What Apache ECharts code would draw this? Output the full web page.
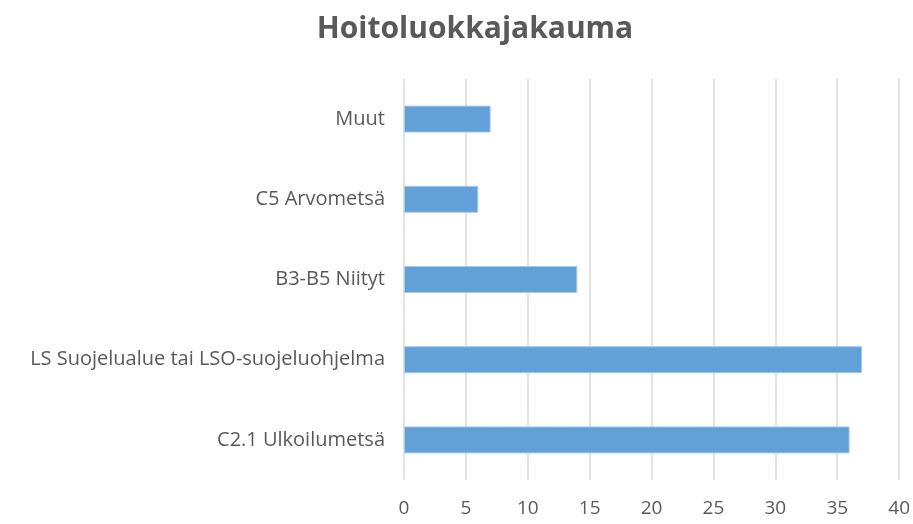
<!DOCTYPE html>
<html>
<head>
<meta charset="utf-8">
<script src="https://cdn.jsdelivr.net/npm/echarts@6/dist/echarts.min.js"></script>
<style>
html, body { margin: 0; padding: 0; background: #fff; }
#chart { width: 913px; height: 524px; }
</style>
</head>
<body>
<div id="chart"></div>
<script>
// Hoitoluokat alhaalta ylös
const categories = [
  'C2.1 Ulkoilumetsä',
  'LS Suojelualue tai LSO-suojeluohjelma',
  'B3-B5 Niityt',
  'C5 Arvometsä',
  'Muut'
];
const values = [36, 37, 14, 6, 7];
const axisTicks = [0, 5, 10, 15, 20, 25, 30, 35, 40];

const chart = echarts.init(document.getElementById('chart'), null, { renderer: 'canvas' });
chart.setOption({
  animation: false,
  title: {
    text: 'Hoitoluokkajakauma',
    left: 470,
    textAlign: 'center',
    top: 9,
    textStyle: {
      fontFamily: 'Open Sans',
      fontWeight: 'bold',
      fontSize: 30,
      color: '#595959'
    }
  },
  grid: { left: 404, right: 13, top: 79, bottom: 44, containLabel: false },
  xAxis: {
    type: 'value',
    min: axisTicks[0],
    max: axisTicks[axisTicks.length - 1],
    interval: axisTicks[1] - axisTicks[0],
    axisLine: { show: false },
    axisTick: { show: false },
    axisLabel: {
      fontFamily: 'Open Sans',
      fontSize: 19,
      color: '#595959',
      margin: 19
    },
    splitLine: { lineStyle: { color: '#D9D9D9', width: 1.5 } }
  },
  yAxis: {
    type: 'category',
    data: categories,
    axisLine: { show: false },
    axisTick: { show: false },
    axisLabel: {
      fontFamily: 'Open Sans',
      fontSize: 20,
      color: '#595959',
      margin: 19
    }
  },
  series: [{
    type: 'bar',
    data: values,
    barWidth: 27,
    itemStyle: {
      color: '#62A0D8',
      borderColor: '#A9CBEB',
      borderWidth: 1
    }
  }]
});
</script>
</body>
</html>
